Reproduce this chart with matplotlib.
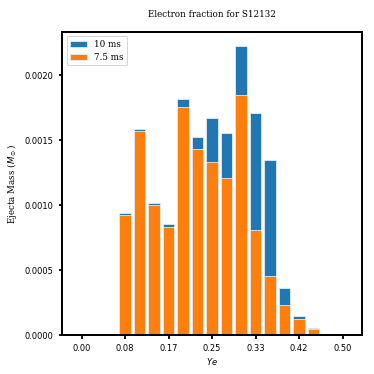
import numpy as np
import matplotlib
matplotlib.use("Agg")
import matplotlib.pyplot as plt

# Ye bin centres (19 bins over [0, 0.5])
ye_centres = np.linspace(0.0, 0.5, 19)

# ejecta mass per bin (Msun)
mass_10ms = [0.0, 0.0, 0.0,
             0.000941, 0.001585, 0.001013, 0.000856, 0.001815, 0.001526,
             0.001668, 0.001552, 0.002224, 0.001712, 0.001348, 0.000361,
             0.000142, 0.000054,
             0.0, 0.0]
mass_7p5ms = [0.0, 0.0, 0.0,
              0.000925, 0.001567, 0.000997, 0.000827, 0.001753, 0.001428,
              0.001330, 0.001206, 0.001845, 0.000804, 0.000451, 0.000230,
              0.000121, 0.000046,
              0.0, 0.0]

labels = ["10 ms", "7.5 ms"]
xticks = np.linspace(0.0, 0.5, 7)

serif = "DejaVu Serif"

fig = plt.figure(figsize=(5.2, 5.2), dpi=72)
ax = fig.add_axes([0.166, 0.105, 0.801, 0.809])

width = 0.8 * (ye_centres[1] - ye_centres[0])
ax.bar(ye_centres, mass_10ms, width=width, color="#1f77b4",
       edgecolor="#e8eef5", linewidth=0.8, label=labels[0])
ax.bar(ye_centres, mass_7p5ms, width=width, color="#ff7f0e",
       edgecolor="#e8eef5", linewidth=0.8, label=labels[1])

ax.set_xticks(xticks)
ax.set_xticklabels([f"{v:.2f}" for v in xticks])
ax.set_yticks([0.0, 0.0005, 0.001, 0.0015, 0.002])
ax.set_yticklabels(["0.0000", "0.0005", "0.0010", "0.0015", "0.0020"])
ax.tick_params(axis="both", labelsize=8.4, length=3.5, width=1.8,
               direction="out", pad=5)

for side in ax.spines.values():
    side.set_linewidth(2.0)
    side.set_color("black")

ax.set_xlabel("$Ye$", fontsize=8.4, labelpad=3)
ax.set_ylabel(r"Ejecta Mass ($M_\odot$)", fontsize=8.7, family=serif, labelpad=6)
ax.set_title("Electron fraction for S12132", fontsize=8.7, family=serif, pad=15)

ax.legend(loc="upper left", prop={"family": serif, "size": 8.7})

fig.savefig("out.png", dpi=72)
